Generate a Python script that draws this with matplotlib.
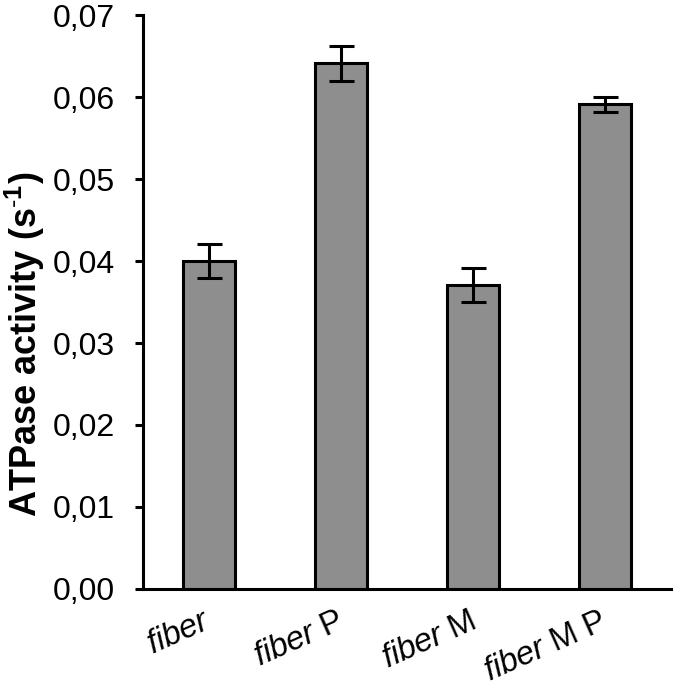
import matplotlib
matplotlib.use("Agg")
import matplotlib.pyplot as plt
import matplotlib.transforms as mtransforms
from matplotlib.ticker import FuncFormatter

plt.rcParams['font.family'] = ['Liberation Sans', 'DejaVu Sans']
plt.rcParams['mathtext.fontset'] = 'custom'
plt.rcParams['mathtext.rm'] = 'Liberation Sans'
plt.rcParams['mathtext.it'] = 'Liberation Sans:italic'
plt.rcParams['mathtext.bf'] = 'Liberation Sans:bold'

# data
labels = [r'$\mathit{fiber}$', r'$\mathit{fiber}$ P',
          r'$\mathit{fiber}$ M', r'$\mathit{fiber}$ M P']
activity = [0.0400, 0.0641, 0.0371, 0.0591]
errors = [0.0021, 0.0021, 0.0021, 0.0009]
yticks = [0.00, 0.01, 0.02, 0.03, 0.04, 0.05, 0.06, 0.07]

fig = plt.figure(figsize=(6.77, 6.88), dpi=100)
ax = fig.add_axes([0.211, 0.144, 0.78, 0.834])

x = range(len(activity))
ax.bar(x, activity, width=0.39, color='#8e8e8e', edgecolor='black', linewidth=2.2,
       yerr=errors, error_kw=dict(ecolor='black', elinewidth=2.2, capsize=9, capthick=2.2))

ax.set_xlim(-0.5, 3.5)
ax.set_ylim(0, 0.07)
ax.set_yticks(yticks)
ax.yaxis.set_major_formatter(FuncFormatter(lambda v, p: f'{v:.2f}'.replace('.', ',')))
ax.tick_params(axis='y', direction='out', length=6, width=2.2, labelsize=23, pad=14)
ax.tick_params(axis='x', length=0, labelsize=23.5, pad=12)

ax.set_xticks(list(x))
ax.set_xticklabels(labels, rotation=24, ha='right', rotation_mode='anchor')
shift = mtransforms.ScaledTranslation(-4 / 72, 0, fig.dpi_scale_trans)
for lab in ax.get_xticklabels():
    lab.set_transform(lab.get_transform() + shift)

for s in ['top', 'right']:
    ax.spines[s].set_visible(False)
for s in ['left', 'bottom']:
    ax.spines[s].set_linewidth(2.2)

ax.set_ylabel(r'ATPase activity (s$^{\mathbf{\text{-}1}}$)', fontsize=26, fontweight='bold')
ax.yaxis.set_label_coords(-0.182, 0.427)

fig.savefig('out.png', dpi=100)
